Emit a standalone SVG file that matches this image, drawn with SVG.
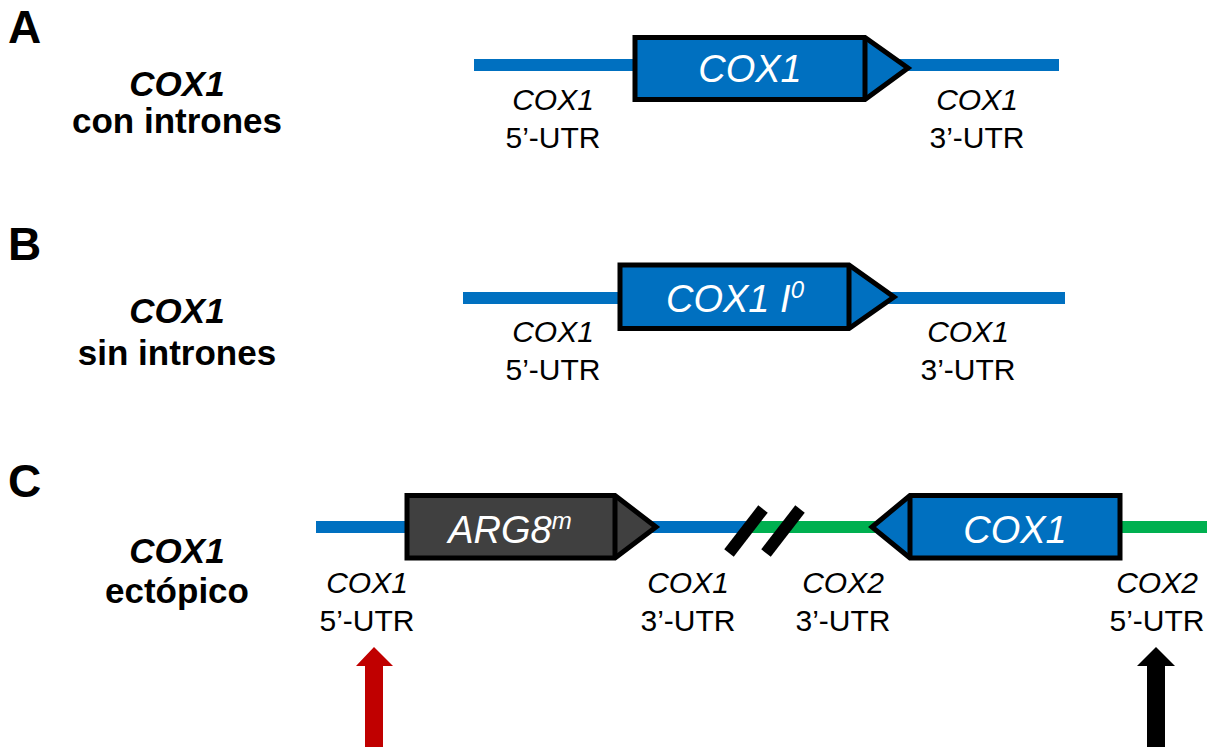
<svg xmlns="http://www.w3.org/2000/svg" width="1217" height="747" viewBox="0 0 1217 747">
<style>
.lab{font-family:"Liberation Sans",Arial,sans-serif;font-size:30px;fill:#000;text-anchor:middle}
.it{font-style:italic}
.side{font-family:"Liberation Sans",Arial,sans-serif;font-size:35px;font-weight:bold;fill:#000;text-anchor:middle}
.panel{font-family:"Liberation Sans",Arial,sans-serif;font-size:46px;font-weight:bold;fill:#000}
.gene{font-family:"Liberation Sans",Arial,sans-serif;font-size:38px;font-style:italic;fill:#fff;text-anchor:middle}
.box{stroke:#000;stroke-width:5;stroke-linejoin:miter}
.blue{fill:#0070C0}
.gray{fill:#404040}
.lnb{stroke:#0070C0;stroke-width:12}
.lng{stroke:#00B050;stroke-width:12}
</style>
<rect width="1217" height="747" fill="#fff"/>
<g id="connectors">
<line class="lnb" x1="474" y1="65" x2="1059" y2="65"/>
<line class="lnb" x1="463" y1="298" x2="1065" y2="298"/>
<line class="lnb" x1="316" y1="527" x2="752" y2="527"/>
<line class="lng" x1="752" y1="527" x2="1207" y2="527"/>
<g stroke="#000" stroke-width="12">
<line x1="729" y1="553" x2="763" y2="509"/>
<line x1="766" y1="553" x2="800" y2="509"/>
</g>
<polygon points="365,747 365,666 356,666 374,647 393,666 383,666 383,747" fill="#C00000"/>
<polygon points="1147,747 1147,666 1137,666 1156,647 1175,666 1165,666 1165,747" fill="#000"/>
</g>
<g id="panelA">
<text class="panel" x="8" y="43">A</text>
<text class="side it" x="177" y="96">COX1</text>
<text class="side" x="177" y="133">con intrones</text>
<g id="geneA">
<polygon class="box blue" points="635,37.5 865,37.5 908,68 865,99.5 635,99.5"/>
<line x1="865" y1="37.5" x2="865" y2="99.5" stroke="#000" stroke-width="5"/>
<text class="gene" x="750" y="82">COX1</text>
</g>
<text class="lab it" x="553" y="110">COX1</text>
<text class="lab" x="553" y="148">5’-UTR</text>
<text class="lab it" x="977" y="110">COX1</text>
<text class="lab" x="977" y="148">3’-UTR</text>
</g>
<g id="panelB">
<text class="panel" x="8" y="260">B</text>
<text class="side it" x="177" y="323">COX1</text>
<text class="side" x="177" y="365">sin intrones</text>
<g id="geneB">
<polygon class="box blue" points="620,265 849,265 894,297 849,328.5 620,328.5"/>
<line x1="849" y1="265" x2="849" y2="328.5" stroke="#000" stroke-width="5"/>
<text class="gene" x="735" y="312">COX1 I<tspan font-size="24" dy="-14">0</tspan></text>
</g>
<text class="lab it" x="553" y="342">COX1</text>
<text class="lab" x="553" y="380">5’-UTR</text>
<text class="lab it" x="968" y="342">COX1</text>
<text class="lab" x="968" y="380">3’-UTR</text>
</g>
<g id="panelC">
<text class="panel" x="8" y="497">C</text>
<text class="side it" x="177" y="563">COX1</text>
<text class="side" x="177" y="603">ectópico</text>
<g id="geneARG8">
<polygon class="box gray" points="407,495.5 615,495.5 656,527 615,558 407,558"/>
<line x1="615" y1="495.5" x2="615" y2="558" stroke="#000" stroke-width="5"/>
<text class="gene" x="510" y="543">ARG8<tspan font-size="24" dy="-14">m</tspan></text>
</g>
<g id="geneCOX1C">
<polygon class="box blue" points="1120,495.5 910,495.5 872,527 910,558 1120,558"/>
<line x1="910" y1="495.5" x2="910" y2="558" stroke="#000" stroke-width="5"/>
<text class="gene" x="1015" y="543">COX1</text>
</g>
<text class="lab it" x="367" y="593">COX1</text>
<text class="lab" x="367" y="631">5’-UTR</text>
<text class="lab it" x="688" y="593">COX1</text>
<text class="lab" x="688" y="631">3’-UTR</text>
<text class="lab it" x="843" y="593">COX2</text>
<text class="lab" x="843" y="631">3’-UTR</text>
<text class="lab it" x="1157" y="593">COX2</text>
<text class="lab" x="1157" y="631">5’-UTR</text>
</g>
</svg>
